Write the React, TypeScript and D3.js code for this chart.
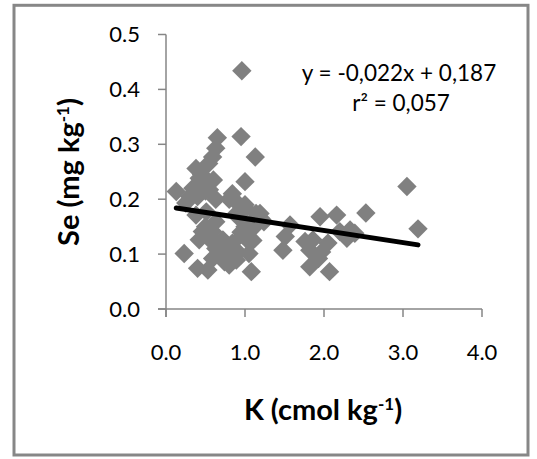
import React from "react";
import * as d3 from "d3";

const kValues = [
  0.65, 0.95, 1.13, 0.63, 0.59, 0.54, 0.38, 1.0, 0.13, 0.42, 0.51, 0.34, 0.55, 0.84, 0.40, 0.63,
  0.25, 0.89, 1.01, 1.14, 1.24, 0.51, 0.38, 0.63, 0.93, 1.10, 0.46, 0.59, 0.97, 0.42, 0.72, 0.84,
  1.05, 0.23, 0.63, 0.76, 0.91, 1.05, 0.59, 0.74, 0.89, 0.40, 0.53, 1.08, 0.80, 0.96, 1.19,
  0.45, 0.50, 0.60, 0.30, 0.80, 0.90, 1.00, 1.10, 1.20, 0.50, 0.55, 0.60, 0.95, 1.00, 1.10, 0.85, 0.70,
  3.05, 1.95, 2.16, 2.53, 1.57, 1.51, 1.48, 2.39, 2.20, 1.86, 1.82, 1.97, 2.05, 1.93, 1.82,
  2.07, 1.76, 2.29, 2.33, 3.19,
];
const seValues = [
  0.312, 0.314, 0.277, 0.293, 0.277, 0.265, 0.256, 0.232, 0.214, 0.238, 0.229, 0.22, 0.217, 0.21, 0.205, 0.2,
  0.193, 0.195, 0.183, 0.174, 0.159, 0.177, 0.171, 0.159, 0.165, 0.147, 0.141, 0.141, 0.135, 0.126, 0.126, 0.12,
  0.123, 0.101, 0.11, 0.104, 0.104, 0.101, 0.092, 0.086, 0.089, 0.074, 0.071, 0.068, 0.08, 0.434, 0.174,
  0.245, 0.215, 0.235, 0.205, 0.2, 0.175, 0.19, 0.16, 0.165, 0.15, 0.13, 0.12, 0.14, 0.15, 0.125, 0.095, 0.095,
  0.223, 0.168, 0.171, 0.175, 0.153, 0.132, 0.107, 0.138, 0.141, 0.126, 0.107, 0.104, 0.12, 0.092, 0.077,
  0.068, 0.123, 0.129, 0.144, 0.146,
];
const trendSlope = -0.022;
const trendIntercept = 0.187;
const xTicks = [0, 1, 2, 3, 4];
const yTicks = [0, 0.1, 0.2, 0.3, 0.4, 0.5];
const equationText = "y = -0,022x + 0,187";
const r2Label = "r² = 0,057";

const W = 537;
const H = 459;
const FONT = "Lato, 'Open Sans', sans-serif";

export default function App() {
  const x = d3.scaleLinear().domain([0, 4]).range([166, 482]);
  const y = d3.scaleLinear().domain([0, 0.5]).range([309, 34.5]);
  const axisColor = "#868686";
  const half = 9.7;
  const diamond = (cx: number, cy: number) =>
    `M${cx},${cy - half}L${cx + half},${cy}L${cx},${cy + half}L${cx - half},${cy}Z`;
  const xMin = d3.min(kValues) as number;
  const xMax = d3.max(kValues) as number;
  const line = d3
    .line<number>()
    .x((d) => x(d))
    .y((d) => y(trendSlope * d + trendIntercept));

  return (
    <svg
      width={W}
      height={H}
      style={{ position: "absolute", left: 0, top: 0, background: "#fff" }}
      fontFamily={FONT}
    >
      <rect x={0} y={0} width={W} height={H} fill="#fff" />
      <rect x={14} y={5.3} width={514} height={449.7} fill="#fff" stroke="#878787" strokeWidth={3} />
      {/* axes */}
      <line x1={x(0)} x2={x(0)} y1={y(0.5)} y2={y(0) + 8} stroke={axisColor} strokeWidth={1.5} />
      <line x1={x(0) - 8} x2={x(4)} y1={y(0)} y2={y(0)} stroke={axisColor} strokeWidth={1.5} />
      {yTicks.map((t) => (
        <g key={"y" + t}>
          <line x1={x(0) - 8} x2={x(0)} y1={y(t)} y2={y(t)} stroke={axisColor} strokeWidth={1.5} />
          <text x={140} y={y(t)} dy="0.35em" textAnchor="end" fontSize={22} fill="#000">
            {t.toFixed(1)}
          </text>
        </g>
      ))}
      {xTicks.map((t) => (
        <g key={"x" + t}>
          <line x1={x(t)} x2={x(t)} y1={y(0)} y2={y(0) + 8} stroke={axisColor} strokeWidth={1.5} />
          <text x={x(t)} y={360} textAnchor="middle" fontSize={22} fill="#000">
            {t.toFixed(1)}
          </text>
        </g>
      ))}
      {/* points */}
      {kValues.map((k, i) => (
        <path key={i} d={diamond(x(k), y(seValues[i]))} fill="#808080" />
      ))}
      {/* trend line */}
      <path
        d={line([xMin, xMax]) as string}
        stroke="#000"
        strokeWidth={5}
        strokeLinecap="round"
        fill="none"
      />
      {/* equation */}
      <text x={399} y={81} textAnchor="middle" fontSize={22.5} fill="#000">
        {equationText}
      </text>
      <text x={401} y={111} textAnchor="middle" fontSize={22.5} fill="#000">
        {r2Label}
      </text>
      {/* axis titles */}
      <text x={323} y={420} textAnchor="middle" fontSize={29} fontWeight="bold" fill="#000">
        K (cmol kg
        <tspan dy={-10} fontSize={17}>-1</tspan>
        <tspan dy={10}>)</tspan>
      </text>
      <text
        transform={`translate(79,172) rotate(-90)`}
        textAnchor="middle"
        fontSize={29}
        fontWeight="bold"
        fill="#000"
      >
        Se (mg kg
        <tspan dy={-10} fontSize={17}>-1</tspan>
        <tspan dy={10}>)</tspan>
      </text>
    </svg>
  );
}
